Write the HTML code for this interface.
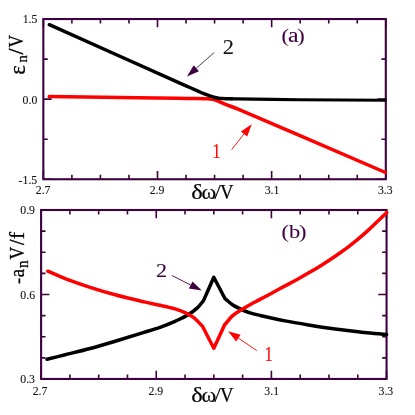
<!DOCTYPE html>
<html><head><meta charset="utf-8">
<style>
html,body{margin:0;padding:0;background:#fff;}
body{width:415px;height:415px;overflow:hidden;}
svg{display:block;}
text{font-family:"Liberation Serif",serif;}
svg{will-change:transform;}
</style></head><body>
<svg width="415" height="415" viewBox="0 0 415 415">
<rect width="415" height="415" fill="#fff"/>
<g stroke="#3f0040" stroke-width="2.1" fill="none" stroke-linecap="butt">
<rect x="43.35" y="19.05" width="342.45" height="160.20"/>
<path stroke-width="1.6" d="M43.35 19.05v8.3M43.35 179.25v-8.3M71.89 19.05v4.4M71.89 179.25v-4.4M100.42 19.05v4.4M100.42 179.25v-4.4M128.96 19.05v4.4M128.96 179.25v-4.4M157.50 19.05v8.3M157.50 179.25v-8.3M186.04 19.05v4.4M186.04 179.25v-4.4M214.57 19.05v4.4M214.57 179.25v-4.4M243.11 19.05v4.4M243.11 179.25v-4.4M271.65 19.05v8.3M271.65 179.25v-8.3M300.19 19.05v4.4M300.19 179.25v-4.4M328.73 19.05v4.4M328.73 179.25v-4.4M357.26 19.05v4.4M357.26 179.25v-4.4M385.80 19.05v8.3M385.80 179.25v-8.3M43.35 19.05h8.3M385.8 19.05h-8.3M43.35 59.10h4.4M385.8 59.10h-4.4M43.35 99.15h8.3M385.8 99.15h-8.3M43.35 139.20h4.4M385.8 139.20h-4.4M43.35 179.25h8.3M385.8 179.25h-8.3"/>
<rect x="41.1" y="210.0" width="345.45" height="168.95"/>
<path stroke-width="1.6" d="M41.10 210.0v8.3M41.10 378.95v-8.3M69.89 210.0v4.4M69.89 378.95v-4.4M98.67 210.0v4.4M98.67 378.95v-4.4M127.46 210.0v4.4M127.46 378.95v-4.4M156.25 210.0v8.3M156.25 378.95v-8.3M185.04 210.0v4.4M185.04 378.95v-4.4M213.82 210.0v4.4M213.82 378.95v-4.4M242.61 210.0v4.4M242.61 378.95v-4.4M271.40 210.0v8.3M271.40 378.95v-8.3M300.19 210.0v4.4M300.19 378.95v-4.4M328.98 210.0v4.4M328.98 378.95v-4.4M357.76 210.0v4.4M357.76 378.95v-4.4M386.55 210.0v8.3M386.55 378.95v-8.3M41.1 210.00h8.3M386.55 210.00h-8.3M41.1 231.12h4.4M386.55 231.12h-4.4M41.1 252.24h4.4M386.55 252.24h-4.4M41.1 273.36h4.4M386.55 273.36h-4.4M41.1 294.48h8.3M386.55 294.48h-8.3M41.1 315.59h4.4M386.55 315.59h-4.4M41.1 336.71h4.4M386.55 336.71h-4.4M41.1 357.83h4.4M386.55 357.83h-4.4M41.1 378.95h8.3M386.55 378.95h-8.3"/>
</g>
<g fill="none" stroke-width="3.5" stroke-linejoin="round" stroke-linecap="round">
<path stroke="#f00" d="M49.20 96.40C84.80 96.90 120.40 97.38 156.00 97.90C166.00 98.05 176.00 98.23 186.00 98.40C192.33 98.51 198.67 98.60 205.00 98.75C207.00 98.80 209.01 98.79 211.00 99.00C212.02 99.11 213.02 99.40 214.00 99.70C215.12 100.04 216.22 100.46 217.30 100.90C219.42 101.76 221.48 102.75 223.60 103.60C228.38 105.52 233.25 107.21 238.00 109.20C258.72 117.91 279.35 126.84 300.00 135.70C328.51 147.94 357.00 160.23 385.50 172.50"/>
<path stroke="#000" d="M49.30 24.70C94.87 45.07 140.43 65.43 186.00 85.80C190.17 87.66 194.32 89.55 198.50 91.40C200.66 92.35 202.81 93.33 205.00 94.20C207.01 95.00 209.05 95.72 211.10 96.40C212.38 96.82 213.68 97.19 215.00 97.50C216.19 97.78 217.39 97.98 218.60 98.15C219.73 98.31 220.86 98.42 222.00 98.50C223.36 98.60 224.73 98.66 226.10 98.70C228.07 98.76 230.03 98.77 232.00 98.80"/>
<path stroke="#000" stroke-width="3.1" stroke-linecap="butt" d="M230.00 98.80C232.67 98.83 235.33 98.87 238.00 98.90C258.67 99.17 279.33 99.52 300.00 99.70C328.83 99.95 357.67 100.03 386.50 100.20"/>
<path stroke="#000" d="M47.00 359.30C53.03 357.80 59.07 356.31 65.10 354.80C73.44 352.71 81.81 350.75 90.10 348.50C98.51 346.22 106.85 343.69 115.20 341.20C124.82 338.33 134.41 335.36 144.00 332.40C149.34 330.76 154.73 329.27 160.00 327.40C165.08 325.60 170.08 323.59 175.00 321.40C179.29 319.49 183.59 317.55 187.60 315.10C191.16 312.93 194.52 310.41 197.60 307.60C199.85 305.54 201.53 302.93 203.50 300.60C206.93 292.83 210.37 285.07 213.80 277.30C217.47 284.30 221.13 291.30 224.80 298.30C227.37 300.47 229.70 302.95 232.50 304.80C235.70 306.91 239.22 308.51 242.70 310.10C245.06 311.18 247.52 312.04 250.00 312.80C253.29 313.81 256.64 314.63 260.00 315.40C268.35 317.33 276.69 319.26 285.10 320.90C293.40 322.52 301.75 323.85 310.10 325.20C318.45 326.55 326.81 327.86 335.20 329.00C344.78 330.30 354.38 331.47 364.00 332.50C371.52 333.30 379.07 333.83 386.60 334.50"/>
<path stroke="#f00" d="M47.80 271.20C53.57 273.67 59.24 276.37 65.10 278.60C73.35 281.74 81.70 284.59 90.10 287.30C98.41 289.99 106.77 292.52 115.20 294.80C124.74 297.39 134.37 299.64 144.00 301.90C149.31 303.14 154.68 304.10 160.00 305.30C165.02 306.43 170.06 307.46 175.00 308.90C178.41 309.90 181.77 311.11 185.00 312.60C188.06 314.02 191.14 315.52 193.80 317.60C197.03 320.13 199.60 323.40 202.50 326.30C206.27 333.63 210.03 340.97 213.80 348.30C217.37 340.53 220.93 332.77 224.50 325.00C227.23 321.87 229.59 318.35 232.70 315.60C235.71 312.94 239.31 311.04 242.70 308.90C245.08 307.40 247.54 306.05 250.00 304.70C253.31 302.88 256.67 301.18 260.00 299.40C264.17 297.18 268.34 294.94 272.50 292.70C276.70 290.44 280.90 288.16 285.10 285.90C289.26 283.66 293.46 281.48 297.60 279.20C301.80 276.88 305.97 274.53 310.10 272.10C314.34 269.60 318.54 267.03 322.70 264.40C326.91 261.73 331.09 259.01 335.20 256.20C339.42 253.31 343.59 250.35 347.70 247.30C350.69 245.08 353.63 242.78 356.50 240.40C360.43 237.14 364.34 233.86 368.10 230.40C374.45 224.56 380.57 218.47 386.80 212.50"/>
</g>
<line x1="214.2" y1="52.5" x2="196.3" y2="68.2" stroke="#333" stroke-width="0.9"/><polygon points="187.0,76.4 199.0,71.2 193.7,65.2" fill="#3f0040"/>
<line x1="231.7" y1="149.6" x2="244.0" y2="133.9" stroke="#f00" stroke-width="0.9"/><polygon points="251.7,124.2 240.9,131.5 247.2,136.4" fill="#f00"/>
<line x1="172.1" y1="275.6" x2="190.7" y2="285.0" stroke="#3f0040" stroke-width="0.9"/><polygon points="201.8,290.6 192.5,281.4 188.9,288.6" fill="#3f0040"/>
<line x1="256.8" y1="350.6" x2="238.4" y2="338.1" stroke="#f00" stroke-width="0.9"/><polygon points="228.1,331.2 236.1,341.5 240.6,334.8" fill="#f00"/>
<text x="35.76" y="193.9" font-size="11.8" fill="#111" stroke="#111" stroke-width="0.1">2.7</text>
<text x="149.72" y="193.9" font-size="11.8" fill="#111" stroke="#111" stroke-width="0.1">2.9</text>
<text x="264.65" y="193.9" font-size="11.8" fill="#111" stroke="#111" stroke-width="0.1">3.1</text>
<text x="377.88" y="193.9" font-size="11.8" fill="#111" stroke="#111" stroke-width="0.1">3.3</text>
<text x="32.66" y="394.6" font-size="11.8" fill="#111" stroke="#111" stroke-width="0.1">2.7</text>
<text x="148.43" y="394.6" font-size="11.8" fill="#111" stroke="#111" stroke-width="0.1">2.9</text>
<text x="264.35" y="394.6" font-size="11.8" fill="#111" stroke="#111" stroke-width="0.1">3.1</text>
<text x="378.52" y="394.6" font-size="11.8" fill="#111" stroke="#111" stroke-width="0.1">3.3</text>
<text x="22.65" y="22.9" font-size="11.8" fill="#111" stroke="#111" stroke-width="0.1">1.5</text>
<text x="22.62" y="103.7" font-size="11.8" fill="#111" stroke="#111" stroke-width="0.1">0.0</text>
<text x="18.58" y="183.8" font-size="11.8" fill="#111" stroke="#111" stroke-width="0.1">-1.5</text>
<text x="20.25" y="213.9" font-size="11.8" fill="#111" stroke="#111" stroke-width="0.1">0.9</text>
<text x="20.33" y="298.6" font-size="11.8" fill="#111" stroke="#111" stroke-width="0.1">0.6</text>
<text x="20.25" y="383.3" font-size="11.8" fill="#111" stroke="#111" stroke-width="0.1">0.3</text>
<text transform="translate(191.13,199.05) scale(1.158,1.008)" font-size="21.05" fill="#000" stroke="#000" stroke-width="0.2">δ</text><text transform="translate(201.47,199.05) scale(1.103,1.005)" font-size="20.36" fill="#000" stroke="#000" stroke-width="0.2">ω</text><text transform="translate(214.20,198.95) scale(1.148,1.000)" font-size="20.93" fill="#000" stroke="#000" stroke-width="0">/</text><text transform="translate(220.07,198.85) scale(0.926,0.998)" font-size="20.34" fill="#000" stroke="#000" stroke-width="0.2">V</text>
<text transform="translate(191.13,401.95) scale(1.158,1.008)" font-size="21.05" fill="#000" stroke="#000" stroke-width="0.2">δ</text><text transform="translate(201.47,401.95) scale(1.103,1.005)" font-size="20.36" fill="#000" stroke="#000" stroke-width="0.2">ω</text><text transform="translate(214.20,401.85) scale(1.148,1.000)" font-size="20.93" fill="#000" stroke="#000" stroke-width="0">/</text><text transform="translate(220.07,401.75) scale(0.926,0.998)" font-size="20.34" fill="#000" stroke="#000" stroke-width="0.2">V</text>
<text transform="translate(281.50,41.66) scale(1.140,1.003)" font-size="19.64" fill="#3f0040" stroke="#3f0040" stroke-width="0.08">(</text>
<text transform="translate(288.11,42.05) scale(1.181,0.995)" font-size="20.16" fill="#3f0040" stroke="#3f0040" stroke-width="0.08">a</text>
<text transform="translate(297.29,41.66) scale(1.140,1.003)" font-size="19.64" fill="#3f0040" stroke="#3f0040" stroke-width="0.08">)</text>
<text transform="translate(281.50,237.96) scale(1.140,1.003)" font-size="19.64" fill="#3f0040" stroke="#3f0040" stroke-width="0.08">(</text>
<text transform="translate(288.90,238.05) scale(1.156,0.996)" font-size="19.40" fill="#3f0040" stroke="#3f0040" stroke-width="0.08">b</text>
<text transform="translate(298.89,237.96) scale(1.140,1.003)" font-size="19.64" fill="#3f0040" stroke="#3f0040" stroke-width="0.08">)</text>
<text transform="translate(222.83,53.60) scale(1.103,1.000)" font-size="20.38" fill="#111" stroke="#111" stroke-width="0.1">2</text>
<text transform="translate(212.45,157.70) scale(0.773,1.006)" font-size="20.68" fill="#f00" stroke="#f00" stroke-width="0.2">1</text>
<text transform="translate(156.11,277.20) scale(1.135,1.002)" font-size="19.47" fill="#3f0040" stroke="#3f0040" stroke-width="0.1">2</text>
<text transform="translate(264.58,360.60) scale(0.814,1.000)" font-size="20.38" fill="#f00" stroke="#f00" stroke-width="0.2">1</text>
<text transform="translate(24.55,74.63) rotate(-90) scale(0.953,1.000)" font-size="23.90" fill="#000" stroke="#000" stroke-width="0.3">ε</text>
<text transform="translate(27.00,62.55) rotate(-90) scale(0.924,0.987)" font-size="15.79" fill="#000" stroke="#000" stroke-width="0.3">n</text>
<text transform="translate(23.05,54.40) rotate(-90) scale(1.043,1.000)" font-size="20.93" fill="#000" stroke="#000" stroke-width="0.4">/</text>
<text transform="translate(22.65,47.61) rotate(-90) scale(0.849,0.998)" font-size="20.34" fill="#000" stroke="#000" stroke-width="0.3">V</text>
<rect x="18.5" y="278.4" width="1.7" height="5.1" fill="#000"/>
<text transform="translate(24.35,277.27) rotate(-90) scale(0.897,1.000)" font-size="20.78" fill="#000" stroke="#000" stroke-width="0.3">a</text>
<text transform="translate(27.90,268.05) rotate(-90) scale(0.936,1.000)" font-size="16.00" fill="#000" stroke="#000" stroke-width="0.3">n</text>
<text transform="translate(23.75,259.42) rotate(-90) scale(0.863,0.998)" font-size="20.34" fill="#000" stroke="#000" stroke-width="0.3">V</text>
<text transform="translate(24.15,244.90) rotate(-90) scale(0.882,0.997)" font-size="21.98" fill="#000" stroke="#000" stroke-width="0.4">/</text>
<text transform="translate(24.40,239.36) rotate(-90) scale(1.051,0.997)" font-size="20.81" fill="#000" stroke="#000" stroke-width="0.3">f</text>
</svg>
</body></html>
